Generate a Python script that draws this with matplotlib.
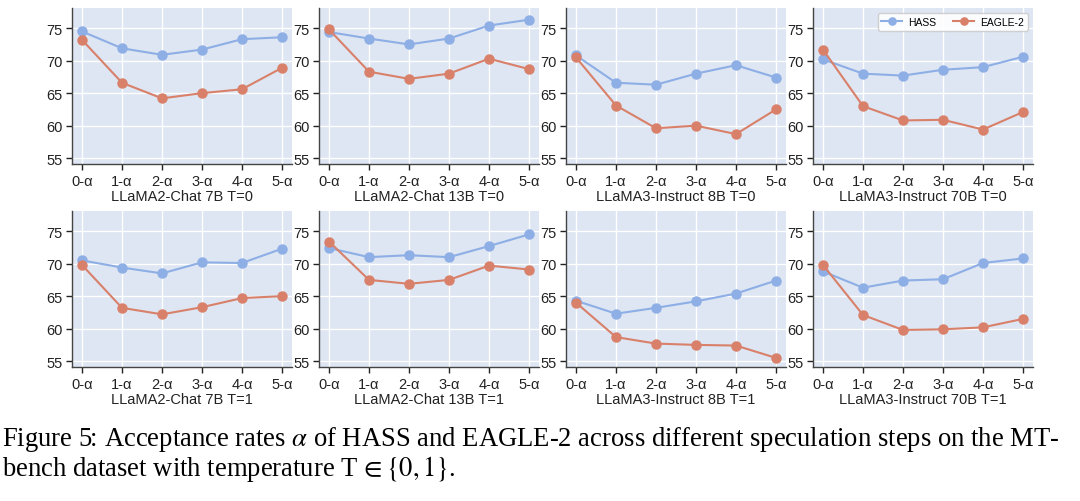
import numpy as np
import matplotlib.pyplot as plt

plt.rcParams['font.family'] = ['Liberation Sans', 'DejaVu Sans']
plt.rcParams['mathtext.fontset'] = 'stix'

steps = ['0-α', '1-α', '2-α', '3-α', '4-α', '5-α']
titles = ['LLaMA2-Chat 7B T=0', 'LLaMA2-Chat 13B T=0', 'LLaMA3-Instruct 8B T=0', 'LLaMA3-Instruct 70B T=0',
          'LLaMA2-Chat 7B T=1', 'LLaMA2-Chat 13B T=1', 'LLaMA3-Instruct 8B T=1', 'LLaMA3-Instruct 70B T=1']

hass = [
    [74.5, 71.9, 70.9, 71.7, 73.3, 73.6],
    [74.4, 73.4, 72.5, 73.4, 75.4, 76.3],
    [70.8, 66.6, 66.3, 68.0, 69.3, 67.4],
    [70.2, 68.0, 67.7, 68.6, 69.0, 70.6],
    [70.5, 69.4, 68.5, 70.2, 70.1, 72.3],
    [72.4, 71.0, 71.3, 71.0, 72.7, 74.5],
    [64.3, 62.3, 63.2, 64.2, 65.4, 67.4],
    [68.8, 66.3, 67.4, 67.6, 70.1, 70.8],
]
eagle2 = [
    [73.2, 66.6, 64.2, 65.0, 65.6, 68.9],
    [74.8, 68.3, 67.2, 68.0, 70.3, 68.7],
    [70.5, 63.1, 59.6, 60.0, 58.7, 62.5],
    [71.7, 63.0, 60.8, 60.9, 59.4, 62.1],
    [69.8, 63.2, 62.2, 63.3, 64.7, 65.0],
    [73.4, 67.5, 66.9, 67.5, 69.7, 69.1],
    [64.0, 58.7, 57.7, 57.5, 57.4, 55.5],
    [69.8, 62.1, 59.8, 59.9, 60.2, 61.5],
]

blue = '#8eaee6'
red = '#d9806a'
W, H = 1080, 502
fig = plt.figure(figsize=(W / 100, H / 100), dpi=100)

lefts = [72, 319, 566, 813]
tops = [9, 212]
aw, ah = 220, 156
x = np.arange(len(steps))

for i in range(8):
    r, c = divmod(i, 4)
    ax = fig.add_axes([lefts[c] / W, 1 - (tops[r] + ah) / H, aw / W, ah / H])
    ax.set_facecolor('#dde6f2')
    ax.plot(x, hass[i], '-o', color=blue, lw=1.5, ms=6.5, label='HASS', zorder=3)
    ax.plot(x, eagle2[i], '-o', color=red, lw=1.5, ms=6.5, label='EAGLE-2', zorder=3)
    ax.set_xlim(-0.25, 5.25)
    ax.set_ylim(54.1, 78.1)
    ax.set_yticks([55, 60, 65, 70, 75])
    ax.set_xticks(x)
    ax.set_xticklabels(steps)
    ax.grid(True, color='white', lw=1.0)
    ax.set_axisbelow(True)
    for s in ['top', 'right']:
        ax.spines[s].set_visible(False)
    for s in ['left', 'bottom']:
        ax.spines[s].set_color('#444444')
        ax.spines[s].set_linewidth(1.0)
    ax.tick_params(labelsize=10.5, colors='#222222', length=4, width=1, pad=3)
    ax.set_xlabel(titles[i], fontsize=10.5, color='#222222', labelpad=1)
    if i == 3:
        ax.legend(loc='upper right', ncol=2, fontsize=7.5, frameon=True,
                  fancybox=True, framealpha=0.9, borderpad=0.35, columnspacing=1.6,
                  handlelength=2.0, handletextpad=0.6, markerscale=0.8)

fig.text(0.002, 1 - 440 / H, r'Figure 5: Acceptance rates $\alpha$ of HASS and EAGLE-2 across different speculation steps on the MT-',
         fontsize=19.2, family='Liberation Serif', va='center', ha='left')
fig.text(0.002, 1 - 469 / H, r'bench dataset with temperature T$\,\in\{0,1\}$.',
         fontsize=19.2, family='Liberation Serif', va='center', ha='left')

fig.savefig('out.png', dpi=100)
